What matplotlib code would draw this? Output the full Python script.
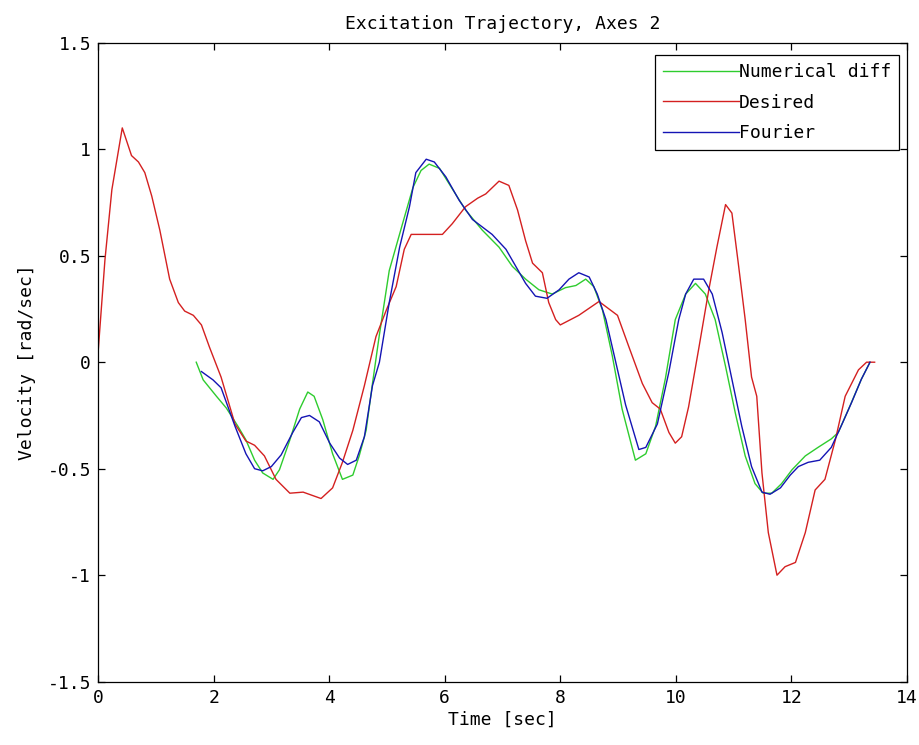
import matplotlib
matplotlib.use("Agg")
import matplotlib.pyplot as plt

# ---- data ----
desired_t = [0, 0.12, 0.24, 0.42, 0.58, 0.70, 0.81, 0.93, 1.07, 1.24, 1.39, 1.50, 1.65, 1.79, 1.93,
             2.13, 2.37, 2.56, 2.71, 2.88, 3.08, 3.32, 3.55, 3.86, 4.06, 4.23, 4.41, 4.61, 4.81, 4.99,
             5.16, 5.30, 5.42, 5.96, 6.13, 6.36, 6.57, 6.71, 6.94, 7.11, 7.26, 7.40, 7.52, 7.69, 7.80,
             7.92, 8.00, 8.32, 8.67, 8.99, 9.19, 9.42, 9.59, 9.73, 9.88, 9.99, 10.10, 10.22, 10.40,
             10.57, 10.71, 10.86, 10.97, 11.08, 11.20, 11.31, 11.40, 11.49, 11.60, 11.75, 11.89, 12.07,
             12.24, 12.41, 12.58, 12.76, 12.93, 13.16, 13.30, 13.44]
desired_v = [0.04, 0.48, 0.81, 1.10, 0.97, 0.94, 0.89, 0.78, 0.62, 0.39, 0.28, 0.24, 0.22, 0.175, 0.07,
             -0.07, -0.29, -0.37, -0.39, -0.44, -0.55, -0.615, -0.61, -0.64, -0.59, -0.47, -0.32, -0.11,
             0.12, 0.245, 0.355, 0.53, 0.60, 0.60, 0.65, 0.73, 0.77, 0.79, 0.85, 0.83, 0.715, 0.57,
             0.465, 0.42, 0.28, 0.20, 0.175, 0.22, 0.285, 0.22, 0.07, -0.10, -0.19, -0.22, -0.33, -0.38,
             -0.35, -0.21, 0.07, 0.34, 0.54, 0.74, 0.70, 0.465, 0.20, -0.07, -0.16, -0.52, -0.80, -1.00,
             -0.96, -0.94, -0.80, -0.60, -0.55, -0.365, -0.16, -0.036, 0.0, 0.0]

fourier_t = [1.79, 1.99, 2.13, 2.37, 2.56, 2.71, 2.85, 3.00, 3.17, 3.37, 3.52, 3.66, 3.83, 4.01, 4.18,
             4.32, 4.47, 4.61, 4.75, 4.87, 5.04, 5.22, 5.39, 5.50, 5.68, 5.82, 6.02, 6.25, 6.48, 6.82,
             7.06, 7.23, 7.40, 7.57, 7.77, 7.98, 8.15, 8.32, 8.50, 8.64, 8.79, 8.96, 9.13, 9.36, 9.48,
             9.68, 9.88, 10.05, 10.17, 10.31, 10.48, 10.63, 10.80, 10.97, 11.14, 11.31, 11.49, 11.63,
             11.81, 11.98, 12.12, 12.29, 12.49, 12.69, 12.86, 13.04, 13.21, 13.36]
fourier_v = [-0.044, -0.083, -0.12, -0.30, -0.43, -0.50, -0.51, -0.49, -0.435, -0.33, -0.26, -0.25,
             -0.28, -0.38, -0.45, -0.48, -0.46, -0.35, -0.11, 0.0, 0.28, 0.54, 0.73, 0.89, 0.953, 0.94,
             0.87, 0.76, 0.67, 0.60, 0.53, 0.45, 0.37, 0.31, 0.30, 0.34, 0.39, 0.42, 0.40, 0.32, 0.20,
             0.0, -0.20, -0.41, -0.40, -0.29, -0.045, 0.20, 0.32, 0.39, 0.39, 0.32, 0.14, -0.08, -0.30,
             -0.49, -0.61, -0.62, -0.59, -0.53, -0.49, -0.47, -0.46, -0.40, -0.30, -0.19, -0.08, 0.0]

numdiff_t = [1.70, 1.82, 2.05, 2.22, 2.42, 2.56, 2.71, 2.85, 3.03, 3.14, 3.32, 3.49, 3.63, 3.74, 3.89,
             4.06, 4.23, 4.41, 4.52, 4.64, 4.75, 4.87, 5.04, 5.27, 5.45, 5.59, 5.73, 5.91, 6.14, 6.36,
             6.65, 6.94, 7.17, 7.40, 7.63, 7.86, 8.09, 8.27, 8.44, 8.58, 8.73, 8.90, 9.07, 9.30, 9.48,
             9.65, 9.82, 9.99, 10.17, 10.34, 10.51, 10.68, 10.86, 11.03, 11.20, 11.37, 11.51, 11.66,
             11.83, 12.01, 12.24, 12.46, 12.69, 12.81, 12.99, 13.21, 13.36]
numdiff_v = [0.0, -0.083, -0.16, -0.215, -0.30, -0.365, -0.46, -0.52, -0.55, -0.505, -0.365, -0.22,
             -0.14, -0.16, -0.27, -0.43, -0.55, -0.53, -0.44, -0.32, -0.10, 0.13, 0.43, 0.65, 0.82, 0.90,
             0.93, 0.91, 0.81, 0.715, 0.62, 0.54, 0.45, 0.39, 0.34, 0.32, 0.35, 0.36, 0.39, 0.355, 0.245,
             0.03, -0.22, -0.46, -0.43, -0.30, -0.075, 0.20, 0.32, 0.37, 0.32, 0.20, -0.02, -0.24, -0.44,
             -0.57, -0.615, -0.615, -0.57, -0.505, -0.44, -0.40, -0.36, -0.33, -0.22, -0.08, 0.0]

x_ticks = [0, 2, 4, 6, 8, 10, 12, 14]
y_ticks = [-1.5, -1, -0.5, 0, 0.5, 1, 1.5]
y_ticklabels = ["-1.5", "-1", "-0.5", "0", "0.5", "1", "1.5"]

# ---- figure ----
plt.rcParams['font.family'] = ['DejaVu Sans Mono']
FS = 13

fig = plt.figure(figsize=(9.2, 7.45), dpi=100)
ax = fig.add_axes([98 / 920, 1 - 681.7 / 745, 809 / 920, 639 / 745])

ax.plot(numdiff_t, numdiff_v, color='#2ecc2e', lw=1.0, label='Numerical diff')
ax.plot(desired_t, desired_v, color='#d42020', lw=1.0, label='Desired')
ax.plot(fourier_t, fourier_v, color='#1414b4', lw=1.0, label='Fourier')

ax.set_xlim(0, 14)
ax.set_ylim(-1.5, 1.5)
ax.set_xticks(x_ticks)
ax.set_xticklabels([str(v) for v in x_ticks])
ax.set_yticks(y_ticks)
ax.set_yticklabels(y_ticklabels)
ax.tick_params(direction='in', top=True, right=True, length=5, width=0.9,
               labelsize=FS, pad=5)
for s in ax.spines.values():
    s.set_linewidth(0.9)

ax.set_title('Excitation Trajectory, Axes 2', fontsize=FS, pad=10)
ax.set_xlabel('Time [sec]', fontsize=FS, labelpad=3)
ax.set_ylabel('Velocity [rad/sec]', fontsize=FS, labelpad=8)

leg = ax.legend(loc='upper right', bbox_to_anchor=(0.990, 0.981), borderaxespad=0,
                fontsize=FS, frameon=True, fancybox=False, framealpha=1,
                edgecolor='black', handlelength=4.2, handletextpad=0.0,
                labelspacing=0.7, borderpad=0.45)
leg.get_frame().set_linewidth(0.9)

fig.savefig('out.png', dpi=100)
